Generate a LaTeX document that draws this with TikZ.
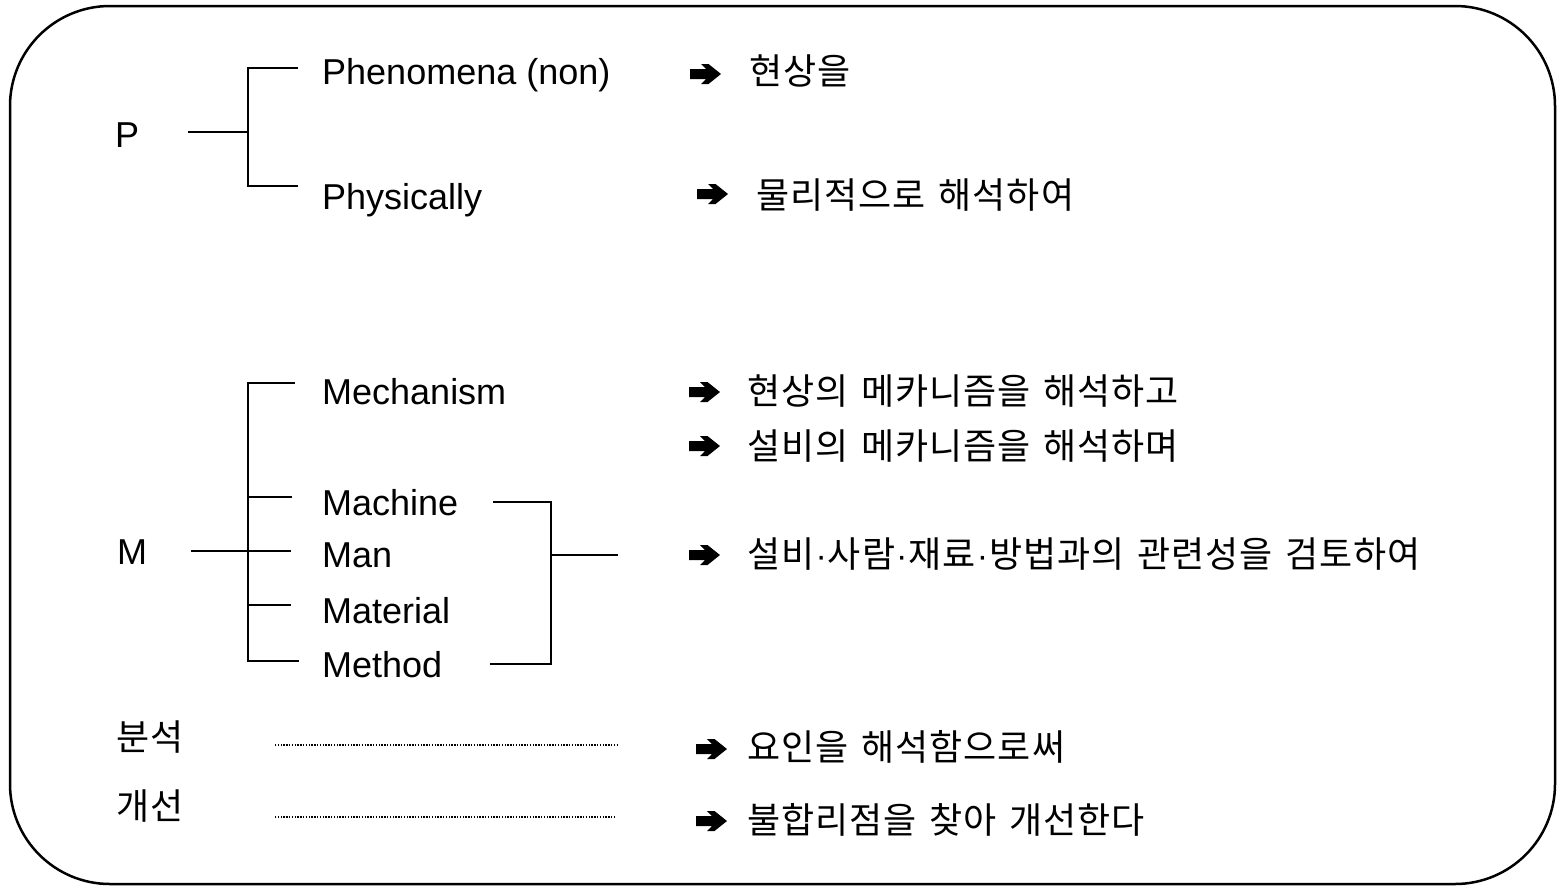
\documentclass[tikz,border=0pt]{standalone}
\usepackage{fontspec}
\setmainfont{Liberation Sans}
\newfontfamily\kr[LetterSpace=3,WordSpace=1.35]{Noto Sans CJK KR}
\newcommand{\middot}{{\rmfamily\fontsize{34}{40}\selectfont\kern1pt·\kern1pt}}
\begin{document}
\begin{tikzpicture}[x=1pt,y=-1pt,
  lat/.style={anchor=base west, inner sep=0pt, font=\fontsize{36}{40}\selectfont},
  kor/.style={anchor=west, inner sep=0pt, font=\kr\fontsize{36}{40}\selectfont},
  conn/.style={line width=1.6pt},
  dotline/.style={line width=1.4pt, dash pattern=on 1.4pt off 1.4pt},
  frame/.style={line width=2.5pt, rounded corners=100pt},
  fatarrow/.pic={\fill (0,-5) -- (16,-5) -- (11,-10) -- (18.5,-10) -- (31,0)
                  -- (18.5,10) -- (11,10) -- (16,5) -- (0,5) -- cycle;}]
\useasboundingbox (0,0) rectangle (1558,887);

% outer frame
\draw[frame] (10,6) rectangle (1555,884);

% ---- P branch ----
\node[lat] (P) at (115,147) {P};
\node[lat] (phen) at (322,84) {Phenomena (non)};
\node[lat] (phys) at (322,209) {Physically};

\coordinate (pL) at (188,132);
\coordinate (pJ) at (248,132);
\coordinate (pTop) at (248,68);
\coordinate (pBot) at (248,186);
\coordinate (pTopE) at (298,68);
\coordinate (pBotE) at (298,186);
\draw[conn] (pL) -- (pJ);
\draw[conn] (pTopE) -- (pTop) -- (pBot) -- (pBotE);

% ---- M branch ----
\node[lat] (M) at (117,564) {M};
\node[lat] (mech) at (322,404) {Mechanism};
\node[lat] (mach) at (322,515) {Machine};
\node[lat] (man) at (322,567) {Man};
\node[lat] (mat) at (322,623) {Material};
\node[lat] (meth) at (322,677) {Method};

\coordinate (mL) at (191,551);
\coordinate (mJ) at (248,551);
\coordinate (mTop) at (248,383);
\coordinate (mBot) at (248,661);
\coordinate (mTopE) at (295,383);
\coordinate (machS) at (248,497);
\coordinate (machE) at (292,497);
\coordinate (manE) at (291,551);
\coordinate (matS) at (248,605);
\coordinate (matE) at (291,605);
\coordinate (mBotE) at (299,661);
\draw[conn] (mL) -- (mJ) -- (manE);
\draw[conn] (mTopE) -- (mTop) -- (mBot) -- (mBotE);
\draw[conn] (machS) -- (machE);
\draw[conn] (matS) -- (matE);

% bracket gathering Machine .. Method
\coordinate (bTopS) at (493,502);
\coordinate (bTop) at (551,502);
\coordinate (bBotS) at (490,664);
\coordinate (bBot) at (551,664);
\coordinate (bMid) at (551,555);
\coordinate (bOut) at (618,555);
\draw[conn] (bTopS) -- (bTop) -- (bBot) -- (bBotS);
\draw[conn] (bMid) -- (bOut);

% ---- analysis / improvement ----
\node[kor] (anal) at (116,737) {분석};
\node[kor] (impr) at (116,806) {개선};
\coordinate (d1S) at (275,745);
\coordinate (d1E) at (618,745);
\coordinate (d2S) at (275,817);
\coordinate (d2E) at (615,817);
\draw[dotline] (d1S) -- (d1E);
\draw[dotline] (d2S) -- (d2E);

% ---- right-hand explanations ----
\pic at (690,74) {fatarrow};
\node[kor] (t1) at (749,71) {현상을};
\pic at (697,194) {fatarrow};
\node[kor] (t2) at (756,195) {물리적으로 해석하여};
\pic at (689,392) {fatarrow};
\node[kor] (t3) at (747,391) {현상의 메카니즘을 해석하고};
\pic at (689,446) {fatarrow};
\node[kor] (t4) at (747,446) {설비의 메카니즘을 해석하며};
\pic at (689,555) {fatarrow};
\node[kor] (t5) at (747,554) {설비\middot 사람\middot 재료\middot 방법과의 관련성을 검토하여};
\pic at (696,749) {fatarrow};
\node[kor] (t6) at (747,747) {요인을 해석함으로써};
\pic at (696,821) {fatarrow};
\node[kor] (t7) at (747,820) {불합리점을 찾아 개선한다};
\end{tikzpicture}
\end{document}
